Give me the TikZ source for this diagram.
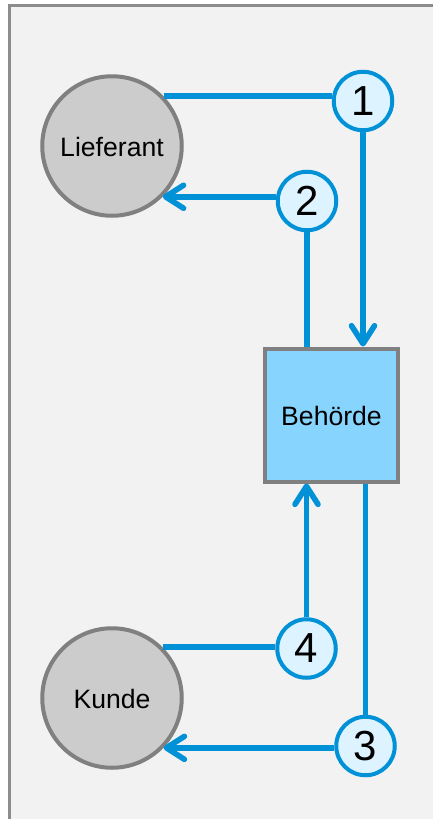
\documentclass[tikz,border=0pt]{standalone}
\usepackage{fontspec}
\setmainfont{Liberation Sans}
\usetikzlibrary{arrows.meta}
\definecolor{flow}{HTML}{0091D7}
\definecolor{numfill}{HTML}{DDF3FF}
\definecolor{boxfill}{HTML}{87D5FF}
\definecolor{partyfill}{HTML}{CCCCCC}
\definecolor{edgegrey}{HTML}{808080}
\definecolor{panelfill}{HTML}{F2F2F2}
\definecolor{panelline}{HTML}{8C8C8C}
\newcommand{\lowered}[1]{\raisebox{-1pt}[\height][\depth]{#1}}
\tikzset{
  party/.style={circle,draw=edgegrey,fill=partyfill,line width=4pt,minimum size=139.5pt,inner sep=0pt,font=\fontsize{26.6pt}{30pt}\selectfont,text=black},
  office/.style={rectangle,draw=edgegrey,fill=boxfill,line width=4pt,minimum size=133pt,inner sep=0pt,font=\fontsize{26.6pt}{30pt}\selectfont,text=black},
  stepnum/.style={circle,draw=flow,fill=numfill,line width=4pt,minimum size=58.5pt,inner sep=0pt,font=\fontsize{42pt}{46pt}\selectfont,text=black},
  flowline/.style={draw=flow,line width=5.6pt},
  flowarrow/.style={flowline,-{Straight Barb[length=18pt,width=23pt,round]}}
}
\begin{document}
\begin{tikzpicture}[x=1pt,y=-1pt]
\clip (0,0) rectangle (433,819);
\useasboundingbox (0,0) rectangle (433,819);
\fill[white] (0,0) rectangle (433,819);
\draw[panelline,fill=panelfill,line width=3pt] (9.5,5) rectangle (460,850);
\node[party] (lief) at (112,146) {\lowered{Lieferant}};
\node[party] (kunde) at (112,698) {\lowered{Kunde}};
\node[office] (beh) at (331.5,415) {\lowered{Behörde}};
\node[stepnum] (n1) at (363,101) {1};
\node[stepnum] (n2) at (307,201) {2};
\node[stepnum] (n3) at (365.5,746) {3};
\node[stepnum] (n4) at (306.5,648.5) {4};
\draw[flowline] (lief.44) -- (lief.44 -| n1.west);
\draw[flowarrow] (n1.south) -- (n1.south |- beh.north);
\draw[flowline] (n2.south) -- (n2.south |- beh.north);
\draw[flowarrow] (n2.west |- lief.-45.5) -- (lief.-45.5);
\draw[flowline] (kunde.45.5) -- (kunde.45.5 -| n4.west);
\draw[flowarrow] (n4.north) -- (n4.north |- beh.south);
\draw[flowline] (n3.north) -- (n3.north |- beh.south);
\draw[flowarrow] (n3.west |- kunde.-44.5) -- (kunde.-44.5);
\end{tikzpicture}
\end{document}
